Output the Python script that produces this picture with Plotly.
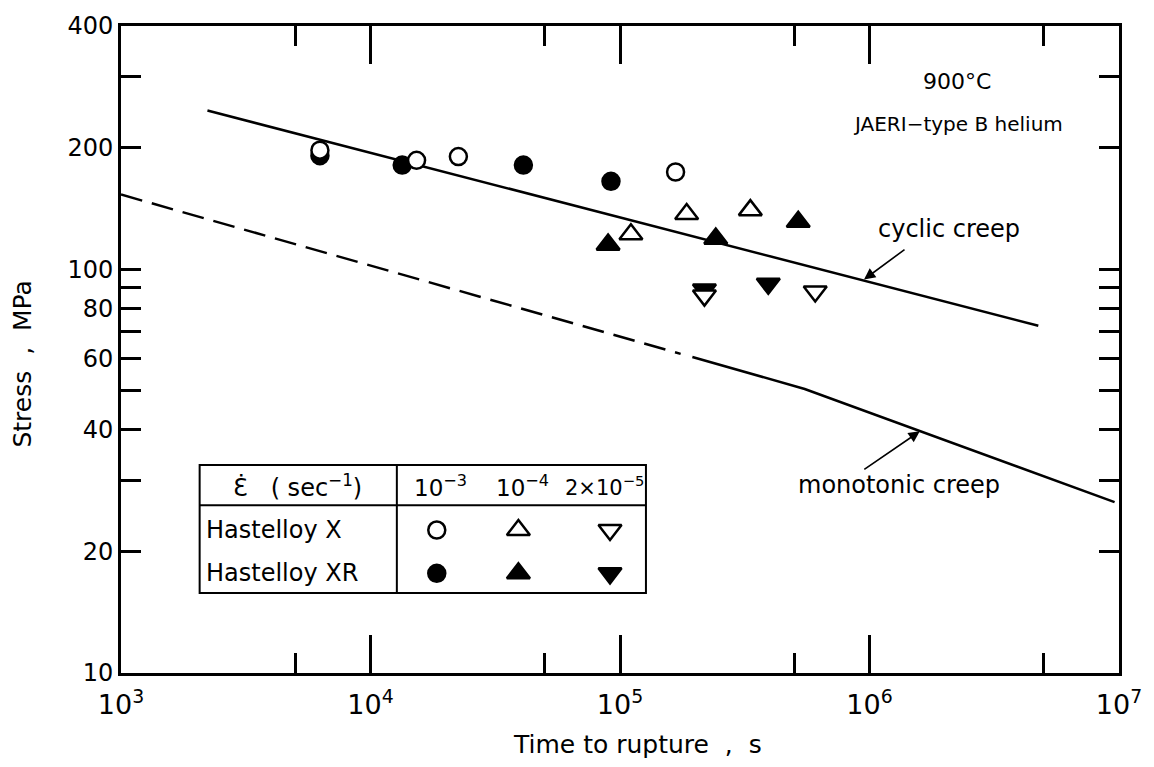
import plotly.graph_objects as go

# ---------------- data ----------------
# Hastelloy X (open symbols) / Hastelloy XR (filled symbols); strain rate 1e-3, 1e-4, 2e-5
hx_1e3_time = [6270, 15300, 22500, 167000]
hx_1e3_stress = [197, 186, 190, 174]
hxr_1e3_time = [6270, 13400, 41000, 92000]
hxr_1e3_stress = [191, 181, 181, 165]

hx_1e4_time = [110600, 185000, 333000]
hx_1e4_stress = [122, 137, 140]
hxr_1e4_time = [89600, 242000, 518000]
hxr_1e4_stress = [115, 119, 131]

hx_2e5_time = [218000, 606000]
hx_2e5_stress = [86, 88]
hxr_2e5_time = [218000, 393000]
hxr_2e5_stress = [89, 92]

cyclic_time = [2220, 4.75e6]
cyclic_stress = [247, 72.4]

mono_dash_time = [1000, 1.75e5]
mono_dash_stress = [153, 61.7]
mono_solid_time = [1.95e5, 5.5e5, 9.6e6]
mono_solid_stress = [60.6, 50.5, 26.5]

x_tickvals = [1e3, 1e4, 1e5, 1e6, 1e7]
x_ticktext = ["10<sup>3</sup>", "10<sup>4</sup>", "10<sup>5</sup>", "10<sup>6</sup>", "10<sup>7</sup>"]
x_minor = [5e3, 5e4, 5e5, 5e6]
y_tickvals = [10, 20, 30, 40, 50, 60, 70, 80, 90, 100, 200, 300, 400]
y_ticktext = ["10", "20", "", "40", "", "60", "", "80", "", "100", "200", "", "400"]

# legend table (layout positions, paper fractions)
tbl_cols = [0.3164, 0.3982, 0.49]
tbl_rows = [0.221, 0.154]
tbl_heads = ["10<sup>−3</sup>", "10<sup>−4</sup>", "2×10<sup>−5</sup>"]

FONT = "DejaVu Sans, Liberation Sans, sans-serif"
BLACK = "black"
LW = 2.5
MS = 17
ML = 2.5

fig = go.Figure()

fig.add_trace(go.Scatter(x=cyclic_time, y=cyclic_stress, mode="lines",
                         line=dict(color=BLACK, width=LW), showlegend=False))
fig.add_trace(go.Scatter(x=mono_dash_time, y=mono_dash_stress, mode="lines",
                         line=dict(color=BLACK, width=LW, dash="22px,10px"), showlegend=False))
fig.add_trace(go.Scatter(x=mono_solid_time, y=mono_solid_stress, mode="lines",
                         line=dict(color=BLACK, width=LW), showlegend=False))

def pts(x, y, symbol, filled):
    return go.Scatter(x=x, y=y, mode="markers", showlegend=False,
                      marker=dict(symbol=symbol, size=MS if "circle" in symbol else MS + 3,
                                  color=BLACK if filled else "white",
                                  line=dict(color=BLACK, width=ML)))

fig.add_trace(pts(hxr_1e3_time, hxr_1e3_stress, "circle", True))
fig.add_trace(pts(hx_1e3_time, hx_1e3_stress, "circle", False))
fig.add_trace(pts(hxr_1e4_time, hxr_1e4_stress, "triangle-up", True))
fig.add_trace(pts(hx_1e4_time, hx_1e4_stress, "triangle-up", False))
fig.add_trace(pts(hxr_2e5_time, hxr_2e5_stress, "triangle-down", True))
fig.add_trace(pts(hx_2e5_time, hx_2e5_stress, "triangle-down", False))

# legend table markers on an overlay axis spanning the plot area
syms = ["circle", "triangle-up", "triangle-down"]
for j, s in enumerate(syms):
    for i, filled in enumerate([False, True]):
        fig.add_trace(go.Scatter(x=[tbl_cols[j]], y=[tbl_rows[i]], mode="markers",
                                 xaxis="x2", yaxis="y2", showlegend=False,
                                 marker=dict(symbol=s, size=MS if s == "circle" else MS + 3,
                                             color=BLACK if filled else "white",
                                             line=dict(color=BLACK, width=ML))))

axis_common = dict(showgrid=False, zeroline=False, showline=True, linecolor=BLACK,
                   linewidth=3, mirror="ticks", ticks="inside", tickcolor=BLACK,
                   tickwidth=2.5)

fig.update_layout(
    width=1154, height=767,
    margin=dict(l=121, r=31, t=17, b=94),
    paper_bgcolor="white", plot_bgcolor="white",
    font=dict(family=FONT, color=BLACK),
    xaxis=dict(type="log", range=[3, 7], tickvals=x_tickvals, ticktext=x_ticktext,
               ticklen=38, tickfont=dict(size=27, family=FONT), ticklabelstandoff=6,
               minor=dict(tickvals=x_minor, ticklen=20, tickwidth=2.5, ticks="inside",
                          tickcolor=BLACK),
               **axis_common),
    yaxis=dict(type="log", range=[1, 2.60206], tickvals=y_tickvals, ticktext=y_ticktext,
               ticklen=20, tickfont=dict(size=24, family=FONT), **axis_common),
    xaxis2=dict(overlaying="x", range=[0, 1], visible=False),
    yaxis2=dict(overlaying="y", range=[0, 1], visible=False),
)

shapes = []
L, R, D, T, H, B = 0.0788, 0.526, 0.2764, 0.3216, 0.2591, 0.1235
shapes.append(dict(type="rect", xref="paper", yref="paper", x0=L, x1=R, y0=B, y1=T,
                   line=dict(color=BLACK, width=2)))
shapes.append(dict(type="line", xref="paper", yref="paper", x0=L, x1=R, y0=H, y1=H,
                   line=dict(color=BLACK, width=2)))
shapes.append(dict(type="line", xref="paper", yref="paper", x0=D, x1=D, y0=B, y1=T,
                   line=dict(color=BLACK, width=2)))
fig.update_layout(shapes=shapes)

ann = []
def txt(x, y, s, size, xanchor="center", angle=0):
    ann.append(dict(x=x, y=y, xref="paper", yref="paper", text=s, showarrow=False,
                    xanchor=xanchor, yanchor="middle", textangle=angle,
                    font=dict(size=size, family=FONT, color=BLACK)))

txt(0.518, -0.11, "Time to rupture  ,  s", 25)
txt(-0.099, 0.477, "Stress  ,  MPa", 25, angle=-90)
txt(0.838, 0.914, "900°C", 22)
txt(0.839, 0.848, "JAERI−type B helium", 20)
txt(0.830, 0.686, "cyclic creep", 24)
txt(0.780, 0.290, "monotonic creep", 24)
txt(0.177, 0.2896, "Ɛ̇   ( sec<sup>−1</sup>)", 24)
txt(0.083, tbl_rows[0], "Hastelloy X", 24, xanchor="left")
txt(0.083, tbl_rows[1], "Hastelloy XR", 24, xanchor="left")
txt(tbl_cols[0] + 0.004, 0.2896, tbl_heads[0], 23)
txt(tbl_cols[1] + 0.004, 0.2896, tbl_heads[1], 23)
txt(tbl_cols[2] - 0.006, 0.2896, tbl_heads[2], 21)

# arrows
ann.append(dict(x=0.7445, y=0.6082, xref="paper", yref="paper", text="", showarrow=True,
                ax=42, ay=-31, arrowhead=2, arrowsize=1.4, arrowwidth=1.6, arrowcolor=BLACK))
ann.append(dict(x=0.8004, y=0.3735, xref="paper", yref="paper", text="", showarrow=True,
                ax=-57, ay=39, arrowhead=2, arrowsize=1.4, arrowwidth=1.6, arrowcolor=BLACK))
fig.update_layout(annotations=ann)

fig.write_html("out.html")
